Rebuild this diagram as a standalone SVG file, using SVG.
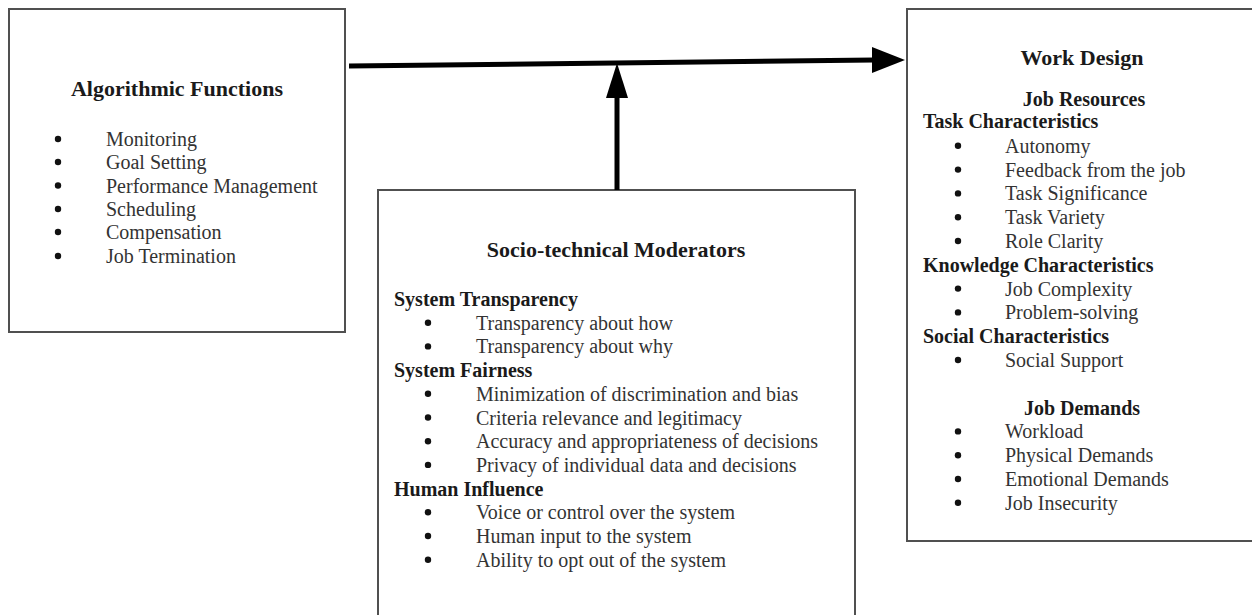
<svg xmlns="http://www.w3.org/2000/svg" width="1252" height="615" viewBox="0 0 1252 615">
<style>
.box{fill:#fff;stroke:#505050;stroke-width:2}
.t{font-family:"Liberation Serif","Times New Roman",serif;font-weight:bold;font-size:22px;fill:#1a1a1a;text-anchor:middle}
.h{font-family:"Liberation Serif","Times New Roman",serif;font-weight:bold;font-size:20px;fill:#1a1a1a}
.hc{font-family:"Liberation Serif","Times New Roman",serif;font-weight:bold;font-size:20px;fill:#1a1a1a;text-anchor:middle}
.i{font-family:"Liberation Serif","Times New Roman",serif;font-size:20px;fill:#333}
.b{fill:#111}
.ln{stroke:#000;stroke-width:5;fill:none}
</style>
<rect width="1252" height="615" fill="#fff"/>
<g id="algorithmic-functions">
<rect class="box" x="9" y="9" width="336" height="323"/>
<text class="t" x="177" y="96">Algorithmic Functions</text>
<circle class="b" cx="58" cy="139" r="3.2"/><text class="i" x="106" y="146">Monitoring</text>
<circle class="b" cx="58" cy="162" r="3.2"/><text class="i" x="106" y="169">Goal Setting</text>
<circle class="b" cx="58" cy="185.5" r="3.2"/><text class="i" x="106" y="192.5">Performance Management</text>
<circle class="b" cx="58" cy="209" r="3.2"/><text class="i" x="106" y="216">Scheduling</text>
<circle class="b" cx="58" cy="232" r="3.2"/><text class="i" x="106" y="239">Compensation</text>
<circle class="b" cx="58" cy="256" r="3.2"/><text class="i" x="106" y="263">Job Termination</text>
</g>
<g id="socio-technical-moderators">
<rect class="box" x="378" y="190" width="477" height="450"/>
<text class="t" x="616" y="257">Socio-technical Moderators</text>
<text class="h" x="394" y="306">System Transparency</text>
<circle class="b" cx="428" cy="322.7" r="3.2"/><text class="i" x="476" y="329.7">Transparency about how</text>
<circle class="b" cx="428" cy="346.4" r="3.2"/><text class="i" x="476" y="353.4">Transparency about why</text>
<text class="h" x="394" y="377.1">System Fairness</text>
<circle class="b" cx="428" cy="393.8" r="3.2"/><text class="i" x="476" y="400.8">Minimization of discrimination and bias</text>
<circle class="b" cx="428" cy="417.5" r="3.2"/><text class="i" x="476" y="424.5">Criteria relevance and legitimacy</text>
<circle class="b" cx="428" cy="441.2" r="3.2"/><text class="i" x="476" y="448.2">Accuracy and appropriateness of decisions</text>
<circle class="b" cx="428" cy="464.9" r="3.2"/><text class="i" x="476" y="471.9">Privacy of individual data and decisions</text>
<text class="h" x="394" y="495.6">Human Influence</text>
<circle class="b" cx="428" cy="512.3" r="3.2"/><text class="i" x="476" y="519.3">Voice or control over the system</text>
<circle class="b" cx="428" cy="536" r="3.2"/><text class="i" x="476" y="543">Human input to the system</text>
<circle class="b" cx="428" cy="559.7" r="3.2"/><text class="i" x="476" y="566.7">Ability to opt out of the system</text>
</g>
<g id="work-design">
<rect class="box" x="907" y="9" width="350" height="532"/>
<text class="t" x="1082" y="65">Work Design</text>
<text class="hc" x="1084" y="106">Job Resources</text>
<text class="h" x="923" y="128">Task Characteristics</text>
<circle class="b" cx="958" cy="145.8" r="3.2"/><text class="i" x="1005" y="152.8">Autonomy</text>
<circle class="b" cx="958" cy="169.6" r="3.2"/><text class="i" x="1005" y="176.6">Feedback from the job</text>
<circle class="b" cx="958" cy="193.4" r="3.2"/><text class="i" x="1005" y="200.4">Task Significance</text>
<circle class="b" cx="958" cy="217.2" r="3.2"/><text class="i" x="1005" y="224.2">Task Variety</text>
<circle class="b" cx="958" cy="241" r="3.2"/><text class="i" x="1005" y="248">Role Clarity</text>
<text class="h" x="923" y="271.8">Knowledge Characteristics</text>
<circle class="b" cx="958" cy="288.6" r="3.2"/><text class="i" x="1005" y="295.6">Job Complexity</text>
<circle class="b" cx="958" cy="312.4" r="3.2"/><text class="i" x="1005" y="319.4">Problem-solving</text>
<text class="h" x="923" y="343.2">Social Characteristics</text>
<circle class="b" cx="958" cy="360" r="3.2"/><text class="i" x="1005" y="367">Social Support</text>
<text class="hc" x="1082" y="414.6">Job Demands</text>
<circle class="b" cx="958" cy="431.4" r="3.2"/><text class="i" x="1005" y="438.4">Workload</text>
<circle class="b" cx="958" cy="455.2" r="3.2"/><text class="i" x="1005" y="462.2">Physical Demands</text>
<circle class="b" cx="958" cy="479" r="3.2"/><text class="i" x="1005" y="486">Emotional Demands</text>
<circle class="b" cx="958" cy="502.8" r="3.2"/><text class="i" x="1005" y="509.8">Job Insecurity</text>
</g>
<g id="connectors">
<line class="ln" x1="349" y1="66" x2="874" y2="60"/>
<polygon points="872,47 905,60 872,73" fill="#000"/>
<line class="ln" x1="617" y1="190" x2="617" y2="96"/>
<polygon points="606,98 617,63 628,98" fill="#000"/>
</g>
</svg>
